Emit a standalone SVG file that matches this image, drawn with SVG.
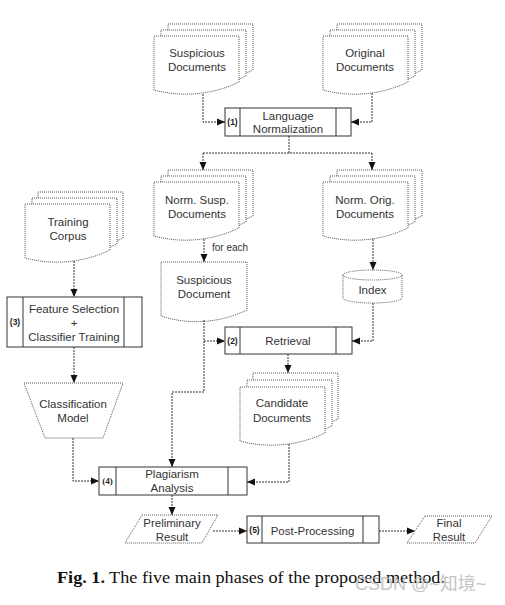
<svg xmlns="http://www.w3.org/2000/svg" xmlns:xlink="http://www.w3.org/1999/xlink" width="505" height="605" viewBox="0 0 505 605">
<style>
.doc{fill:#fff;stroke:#555;stroke-width:1;stroke-dasharray:1 1}
.shape{fill:#fff;stroke:#555;stroke-width:1;stroke-dasharray:1 1}
.box{fill:#fff;stroke:#333;stroke-width:1}
.con{fill:none;stroke:#333;stroke-width:1;stroke-dasharray:2 1}
.t{font-family:"Liberation Sans",Arial,sans-serif;font-size:11.5px;fill:#333;text-anchor:middle}
.n{font-family:"Liberation Sans",Arial,sans-serif;font-size:8.5px;font-weight:bold;fill:#222;text-anchor:middle}
.small{font-family:"Liberation Sans",Arial,sans-serif;font-size:10px;fill:#333}
</style>
<defs>
<path id="doc" d="M0,0 H85 V46 C60,58 30,62 0,54 Z"/>
<marker id="ah" viewBox="0 0 8 8" refX="8" refY="4" markerWidth="8" markerHeight="8" markerUnits="userSpaceOnUse" orient="auto">
<path d="M0,0.5 L8,4 L0,7.5 Z" fill="#111"/>
</marker>
</defs>
<rect width="505" height="605" fill="#fff"/>

<g id="suspicious-documents">
<use xlink:href="#doc" href="#doc" class="doc" x="168" y="24"/>
<use xlink:href="#doc" href="#doc" class="doc" x="161" y="30"/>
<use xlink:href="#doc" href="#doc" class="doc" x="154" y="36"/>
<text class="t" x="197" y="57">Suspicious</text>
<text class="t" x="197" y="71">Documents</text>
</g>

<g id="original-documents">
<use xlink:href="#doc" href="#doc" class="doc" x="337" y="24"/>
<use xlink:href="#doc" href="#doc" class="doc" x="330" y="30"/>
<use xlink:href="#doc" href="#doc" class="doc" x="323" y="36"/>
<text class="t" x="365" y="57">Original</text>
<text class="t" x="365" y="71">Documents</text>
</g>

<g id="language-normalization">
<rect class="box" x="225" y="108" width="126" height="28"/>
<line class="box" x1="240" y1="108" x2="240" y2="136"/>
<line class="box" x1="336" y1="108" x2="336" y2="136"/>
<text class="n" x="232.5" y="125">(1)</text>
<text class="t" x="288" y="120">Language</text>
<text class="t" x="288" y="133">Normalization</text>
</g>

<g id="norm-susp-documents">
<use xlink:href="#doc" href="#doc" class="doc" x="168" y="170"/>
<use xlink:href="#doc" href="#doc" class="doc" x="161" y="176"/>
<use xlink:href="#doc" href="#doc" class="doc" x="154" y="182"/>
<text class="t" x="197" y="204">Norm. Susp.</text>
<text class="t" x="197" y="218">Documents</text>
</g>

<g id="norm-orig-documents">
<use xlink:href="#doc" href="#doc" class="doc" x="337" y="170"/>
<use xlink:href="#doc" href="#doc" class="doc" x="330" y="176"/>
<use xlink:href="#doc" href="#doc" class="doc" x="323" y="182"/>
<text class="t" x="365" y="204">Norm. Orig.</text>
<text class="t" x="365" y="218">Documents</text>
</g>

<g id="training-corpus">
<use xlink:href="#doc" href="#doc" class="doc" x="38" y="192"/>
<use xlink:href="#doc" href="#doc" class="doc" x="32" y="198"/>
<use xlink:href="#doc" href="#doc" class="doc" x="25" y="204"/>
<text class="t" x="68" y="226">Training</text>
<text class="t" x="68" y="240">Corpus</text>
</g>

<g id="suspicious-document">
<path class="doc" d="M161,262 H247 V310 C222,322 191,326 161,316 Z"/>
<text class="t" x="204" y="284">Suspicious</text>
<text class="t" x="204" y="298">Document</text>
</g>

<g id="index">
<path class="shape" d="M343,275 A29.5,5 0 0 1 402,275 V298 A29.5,5 0 0 1 343,298 Z"/>
<path class="shape" d="M343,275 A29.5,5 0 0 0 402,275" fill="none"/>
<text class="t" x="372.5" y="294">Index</text>
</g>

<g id="feature-selection">
<rect class="box" x="7" y="297" width="135" height="50"/>
<line class="box" x1="23" y1="297" x2="23" y2="347"/>
<line class="box" x1="124" y1="297" x2="124" y2="347"/>
<text class="n" x="15" y="325">(3)</text>
<text class="t" x="74" y="313">Feature Selection</text>
<text class="t" x="74" y="327">+</text>
<text class="t" x="74" y="341">Classifier Training</text>
</g>

<g id="retrieval">
<rect class="box" x="225" y="327" width="127" height="27"/>
<line class="box" x1="240" y1="327" x2="240" y2="354"/>
<line class="box" x1="336" y1="327" x2="336" y2="354"/>
<text class="n" x="232.5" y="344">(2)</text>
<text class="t" x="288" y="345">Retrieval</text>
</g>

<g id="candidate-documents">
<use xlink:href="#doc" href="#doc" class="doc" x="253" y="373"/>
<use xlink:href="#doc" href="#doc" class="doc" x="247" y="380"/>
<use xlink:href="#doc" href="#doc" class="doc" x="240" y="387"/>
<text class="t" x="282" y="407">Candidate</text>
<text class="t" x="282" y="422">Documents</text>
</g>

<g id="classification-model">
<path class="shape" d="M24,383 H123 L103,438 H45 Z"/>
<text class="t" x="73" y="408">Classification</text>
<text class="t" x="73" y="422">Model</text>
</g>

<g id="plagiarism-analysis">
<rect class="box" x="99" y="467" width="148" height="28"/>
<line class="box" x1="116" y1="467" x2="116" y2="495"/>
<line class="box" x1="228" y1="467" x2="228" y2="495"/>
<text class="n" x="107.5" y="484" style="font-family:'Liberation Serif',serif;font-size:9px">(4)</text>
<text class="t" x="172" y="478">Plagiarism</text>
<text class="t" x="172" y="492">Analysis</text>
</g>

<g id="preliminary-result">
<path class="shape" d="M142,515 H218 L202,543 H125 Z"/>
<text class="t" x="172" y="527">Preliminary</text>
<text class="t" x="172" y="541">Result</text>
</g>

<g id="post-processing">
<rect class="box" x="247" y="516" width="132" height="27"/>
<line class="box" x1="262" y1="516" x2="262" y2="543"/>
<line class="box" x1="363" y1="516" x2="363" y2="543"/>
<text class="n" x="254.5" y="533">(5)</text>
<text class="t" x="312.5" y="535">Post-Processing</text>
</g>

<g id="final-result">
<path class="shape" d="M425,516 H492 L475,543 H407 Z"/>
<text class="t" x="449" y="527">Final</text>
<text class="t" x="449" y="541">Result</text>
</g>

<g id="connectors">
<path class="con" d="M203,94 V122 H225" marker-end="url(#ah)"/>
<path class="con" d="M372,93 V122 H351" marker-end="url(#ah)"/>
<path class="con" d="M289,136 V153"/>
<path class="con" d="M203,153 H372"/>
<path class="con" d="M203,153 V170" marker-end="url(#ah)"/>
<path class="con" d="M372,153 V170" marker-end="url(#ah)"/>
<path class="con" d="M204,239 V262" marker-end="url(#ah)"/>
<path class="con" d="M373,239 V270" marker-end="url(#ah)"/>
<path class="con" d="M373,303 V341 H352" marker-end="url(#ah)"/>
<path class="con" d="M204,320 V341 H225" marker-end="url(#ah)"/>
<path class="con" d="M204,341 V392 H172 V467" marker-end="url(#ah)"/>
<path class="con" d="M288,354 V373" marker-end="url(#ah)"/>
<path class="con" d="M289,444 V482 H247" marker-end="url(#ah)"/>
<path class="con" d="M74,261 V297" marker-end="url(#ah)"/>
<path class="con" d="M74,347 V383" marker-end="url(#ah)"/>
<path class="con" d="M73,438 V481 H99" marker-end="url(#ah)"/>
<path class="con" d="M172,495 V515" marker-end="url(#ah)"/>
<path class="con" d="M213,531 H247" marker-end="url(#ah)"/>
<path class="con" d="M379,531 H415" marker-end="url(#ah)"/>
<text class="small" x="212" y="251">for each</text>
</g>

<text x="57" y="583" textLength="388" lengthAdjust="spacingAndGlyphs" style="font-family:'Liberation Serif','Times New Roman',serif;font-size:17px;fill:#111"><tspan font-weight="bold">Fig. 1.</tspan> The five main phases of the proposed method.</text>
<text x="355" y="590" style="font-family:'Liberation Sans','Noto Sans CJK SC',sans-serif;font-size:18px;fill:#bbb;opacity:0.85">CSDN @~知境~</text>
</svg>
